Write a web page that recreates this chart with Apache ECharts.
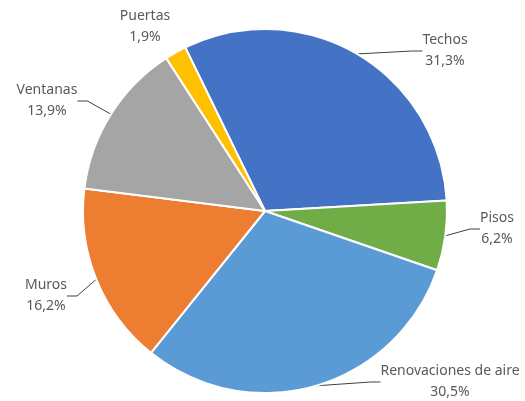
<!DOCTYPE html>
<html>
<head>
<meta charset="utf-8">
<script src="https://cdn.jsdelivr.net/npm/echarts@6/dist/echarts.min.js"></script>
<style>
  html, body { margin: 0; padding: 0; background: #fff; }
  #chart { width: 525px; height: 401px; }
</style>
</head>
<body>
<div id="chart"></div>
<script>
// data (percent of total)
const categories = ['Techos', 'Pisos', 'Renovaciones de aire', 'Muros', 'Ventanas', 'Puertas']
const shares = [31.3, 6.2, 30.5, 16.2, 13.9, 1.9]

const colors = ['#4472C4', '#70AD47', '#5B9BD5', '#ED7D31', '#A5A5A5', '#FFC000']
// label block centres, same order as categories
const labelPos = [[445, 51], [497, 229], [450, 382], [46, 296], [47, 101], [145, 27]]

const chart = echarts.init(document.getElementById('chart'))

chart.setOption({
  animation: false,
  color: colors,
  series: [
    {
      type: 'pie',
      center: [265, 211],
      radius: 182,
      startAngle: 116,
      clockwise: true,
      itemStyle: {
        borderColor: '#fff',
        borderWidth: 2
      },
      label: {
        show: true,
        position: 'outside',
        fontFamily: 'Noto Sans',
        fontSize: 14,
        lineHeight: 21,
        color: '#595959',
        align: 'center',
        formatter: p => p.name + '\n' + p.value.toFixed(1).replace('.', ',') + '%'
      },
      labelLine: {
        show: true,
        length: 10,
        length2: 10,
        lineStyle: { color: '#404040', width: 1 }
      },
      labelLayout: p => {
        const pos = labelPos[p.dataIndex]
        return {
          x: pos[0],
          y: pos[1],
          align: 'center',
          verticalAlign: 'middle'
        }
      },
      data: categories.map((name, i) => ({
        name: name,
        value: shares[i],
        labelLine: name === 'Puertas' ? { show: false } : undefined
      }))
    }
  ]
})
</script>
</body>
</html>
